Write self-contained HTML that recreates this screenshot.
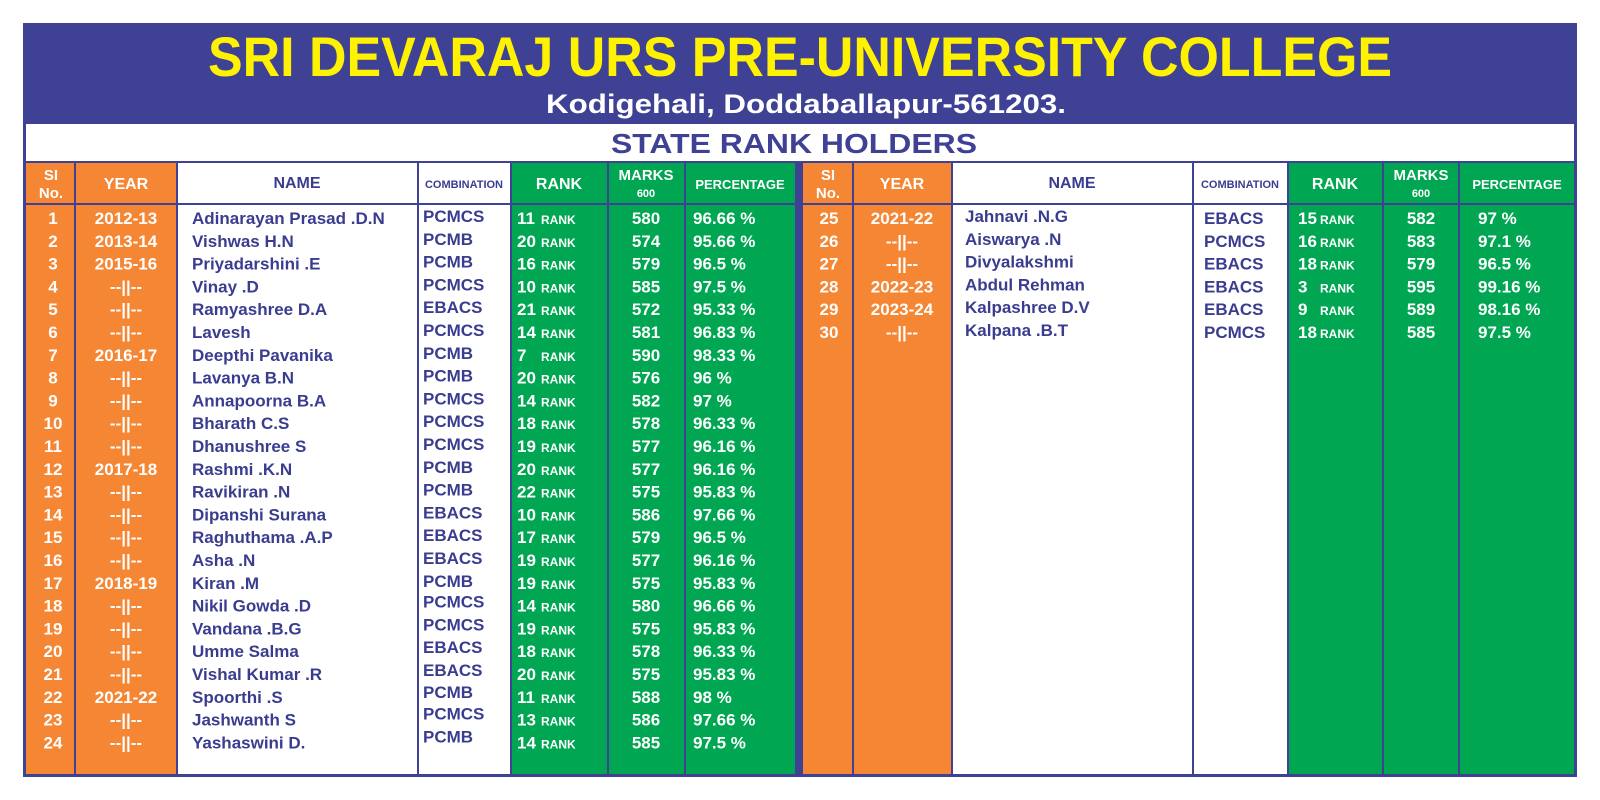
<!DOCTYPE html>
<html><head><meta charset="utf-8"><style>
html,body{margin:0;padding:0;background:#fff;}
svg{display:block;}
text{font-family:"Liberation Sans",Arial,sans-serif;font-weight:bold;}
.w{fill:#fff}.b{fill:#3a3d8f}
.d text{font-size:17px;}
.d .s text{font-size:12px}
</style></head><body>
<svg width="1600" height="800" viewBox="0 0 1600 800" xmlns="http://www.w3.org/2000/svg">
<rect width="1600" height="800" fill="#fff"/>
<rect x="24" y="24" width="1552" height="100" fill="#3f4194"/>
<text x="800" y="76" text-anchor="middle" font-size="56" fill="#fff200" textLength="1184" lengthAdjust="spacingAndGlyphs">SRI DEVARAJ URS PRE-UNIVERSITY COLLEGE</text>
<text x="806" y="113" text-anchor="middle" font-size="27" fill="#fff" textLength="520" lengthAdjust="spacingAndGlyphs">Kodigehali, Doddaballapur-561203.</text>
<text x="794" y="153" text-anchor="middle" font-size="28" fill="#3f4194" textLength="366" lengthAdjust="spacingAndGlyphs">STATE RANK HOLDERS</text>
<rect x="25" y="162" width="152" height="613" fill="#f58634"/>
<rect x="511" y="162" width="284" height="613" fill="#00a651"/>
<rect x="795" y="162" width="8" height="613" fill="#3f4194"/>
<rect x="803" y="162" width="149" height="613" fill="#f58634"/>
<rect x="1288" y="162" width="288" height="613" fill="#00a651"/>
<g stroke="#3f4194" stroke-width="2">
<line x1="25" y1="162" x2="1576" y2="162"/>
<line x1="25" y1="204" x2="1576" y2="204"/>
<line x1="75" y1="162" x2="75" y2="775"/>
<line x1="177" y1="162" x2="177" y2="775"/>
<line x1="418" y1="162" x2="418" y2="775"/>
<line x1="511" y1="162" x2="511" y2="775"/>
<line x1="608" y1="162" x2="608" y2="775"/>
<line x1="685" y1="162" x2="685" y2="775"/>
<line x1="853" y1="162" x2="853" y2="775"/>
<line x1="952" y1="162" x2="952" y2="775"/>
<line x1="1193" y1="162" x2="1193" y2="775"/>
<line x1="1288" y1="162" x2="1288" y2="775"/>
<line x1="1383" y1="162" x2="1383" y2="775"/>
<line x1="1459" y1="162" x2="1459" y2="775"/>
</g>
<rect x="24.5" y="24.5" width="1551" height="751" fill="none" stroke="#3f4194" stroke-width="3"/>
<g class="w" text-anchor="middle">
<text x="51" y="180" font-size="15">SI</text><text x="51" y="198" font-size="15">No.</text>
<text x="126" y="189" font-size="16">YEAR</text>
<text x="559" y="189" font-size="16">RANK</text>
<text x="646" y="180" font-size="15">MARKS</text><text x="646" y="197" font-size="11">600</text>
<text x="740" y="189" font-size="13">PERCENTAGE</text>
<text x="828" y="180" font-size="15">SI</text><text x="828" y="198" font-size="15">No.</text>
<text x="902" y="189" font-size="16">YEAR</text>
<text x="1335" y="189" font-size="16">RANK</text>
<text x="1421" y="180" font-size="15">MARKS</text><text x="1421" y="197" font-size="11">600</text>
<text x="1517" y="189" font-size="13">PERCENTAGE</text>
</g>
<g class="b" text-anchor="middle">
<text x="297" y="188" font-size="16">NAME</text>
<text x="464" y="188" font-size="11">COMBINATION</text>
<text x="1072" y="188" font-size="16">NAME</text>
<text x="1240" y="188" font-size="11">COMBINATION</text>
</g>
<g class="d">
<g class="w" text-anchor="middle">
<text x="53" y="224">1</text><text x="53" y="246.8">2</text><text x="53" y="269.6">3</text><text x="53" y="292.4">4</text><text x="53" y="315.2">5</text><text x="53" y="338">6</text><text x="53" y="360.8">7</text><text x="53" y="383.6">8</text><text x="53" y="406.4">9</text><text x="53" y="429.2">10</text><text x="53" y="452">11</text><text x="53" y="474.8">12</text><text x="53" y="497.6">13</text><text x="53" y="520.4">14</text><text x="53" y="543.2">15</text><text x="53" y="566">16</text><text x="53" y="588.8">17</text><text x="53" y="611.6">18</text><text x="53" y="634.4">19</text><text x="53" y="657.2">20</text><text x="53" y="680">21</text><text x="53" y="702.8">22</text><text x="53" y="725.6">23</text><text x="53" y="748.4">24</text>
<text x="126" y="224">2012-13</text><text x="126" y="246.8">2013-14</text><text x="126" y="269.6">2015-16</text><text x="126" y="292.4">--||--</text><text x="126" y="315.2">--||--</text><text x="126" y="338">--||--</text><text x="126" y="360.8">2016-17</text><text x="126" y="383.6">--||--</text><text x="126" y="406.4">--||--</text><text x="126" y="429.2">--||--</text><text x="126" y="452">--||--</text><text x="126" y="474.8">2017-18</text><text x="126" y="497.6">--||--</text><text x="126" y="520.4">--||--</text><text x="126" y="543.2">--||--</text><text x="126" y="566">--||--</text><text x="126" y="588.8">2018-19</text><text x="126" y="611.6">--||--</text><text x="126" y="634.4">--||--</text><text x="126" y="657.2">--||--</text><text x="126" y="680">--||--</text><text x="126" y="702.8">2021-22</text><text x="126" y="725.6">--||--</text><text x="126" y="748.4">--||--</text>
<text x="646" y="224">580</text><text x="646" y="246.8">574</text><text x="646" y="269.6">579</text><text x="646" y="292.4">585</text><text x="646" y="315.2">572</text><text x="646" y="338">581</text><text x="646" y="360.8">590</text><text x="646" y="383.6">576</text><text x="646" y="406.4">582</text><text x="646" y="429.2">578</text><text x="646" y="452">577</text><text x="646" y="474.8">577</text><text x="646" y="497.6">575</text><text x="646" y="520.4">586</text><text x="646" y="543.2">579</text><text x="646" y="566">577</text><text x="646" y="588.8">575</text><text x="646" y="611.6">580</text><text x="646" y="634.4">575</text><text x="646" y="657.2">578</text><text x="646" y="680">575</text><text x="646" y="702.8">588</text><text x="646" y="725.6">586</text><text x="646" y="748.4">585</text>
</g>
<g class="b">
<text x="192" y="224">Adinarayan Prasad .D.N</text><text x="192" y="246.8">Vishwas H.N</text><text x="192" y="269.6">Priyadarshini .E</text><text x="192" y="292.4">Vinay .D</text><text x="192" y="315.2">Ramyashree D.A</text><text x="192" y="338">Lavesh</text><text x="192" y="360.8">Deepthi Pavanika</text><text x="192" y="383.6">Lavanya B.N</text><text x="192" y="406.4">Annapoorna B.A</text><text x="192" y="429.2">Bharath C.S</text><text x="192" y="452">Dhanushree S</text><text x="192" y="474.8">Rashmi .K.N</text><text x="192" y="497.6">Ravikiran .N</text><text x="192" y="520.4">Dipanshi Surana</text><text x="192" y="543.2">Raghuthama .A.P</text><text x="192" y="566">Asha .N</text><text x="192" y="588.8">Kiran .M</text><text x="192" y="611.6">Nikil Gowda .D</text><text x="192" y="634.4">Vandana .B.G</text><text x="192" y="657.2">Umme Salma</text><text x="192" y="680">Vishal Kumar .R</text><text x="192" y="702.8">Spoorthi .S</text><text x="192" y="725.6">Jashwanth S</text><text x="192" y="748.4">Yashaswini D.</text>
<text x="423" y="222">PCMCS</text><text x="423" y="244.8">PCMB</text><text x="423" y="267.6">PCMB</text><text x="423" y="290.4">PCMCS</text><text x="423" y="313.2">EBACS</text><text x="423" y="336">PCMCS</text><text x="423" y="358.8">PCMB</text><text x="423" y="381.6">PCMB</text><text x="423" y="404.4">PCMCS</text><text x="423" y="427.2">PCMCS</text><text x="423" y="450">PCMCS</text><text x="423" y="472.8">PCMB</text><text x="423" y="495.6">PCMB</text><text x="423" y="518.4">EBACS</text><text x="423" y="541.2">EBACS</text><text x="423" y="564">EBACS</text><text x="423" y="586.8">PCMB</text><text x="423" y="607.6">PCMCS</text><text x="423" y="630.4">PCMCS</text><text x="423" y="653.2">EBACS</text><text x="423" y="676">EBACS</text><text x="423" y="697.8">PCMB</text><text x="423" y="719.6">PCMCS</text><text x="423" y="742.4">PCMB</text>
</g>
<g class="w">
<text x="517" y="224">11</text><text x="517" y="246.8">20</text><text x="517" y="269.6">16</text><text x="517" y="292.4">10</text><text x="517" y="315.2">21</text><text x="517" y="338">14</text><text x="517" y="360.8">7</text><text x="517" y="383.6">20</text><text x="517" y="406.4">14</text><text x="517" y="429.2">18</text><text x="517" y="452">19</text><text x="517" y="474.8">20</text><text x="517" y="497.6">22</text><text x="517" y="520.4">10</text><text x="517" y="543.2">17</text><text x="517" y="566">19</text><text x="517" y="588.8">19</text><text x="517" y="611.6">14</text><text x="517" y="634.4">19</text><text x="517" y="657.2">18</text><text x="517" y="680">20</text><text x="517" y="702.8">11</text><text x="517" y="725.6">13</text><text x="517" y="748.4">14</text>
<g class="s"><text x="541" y="224">RANK</text><text x="541" y="246.8">RANK</text><text x="541" y="269.6">RANK</text><text x="541" y="292.4">RANK</text><text x="541" y="315.2">RANK</text><text x="541" y="338">RANK</text><text x="541" y="360.8">RANK</text><text x="541" y="383.6">RANK</text><text x="541" y="406.4">RANK</text><text x="541" y="429.2">RANK</text><text x="541" y="452">RANK</text><text x="541" y="474.8">RANK</text><text x="541" y="497.6">RANK</text><text x="541" y="520.4">RANK</text><text x="541" y="543.2">RANK</text><text x="541" y="566">RANK</text><text x="541" y="588.8">RANK</text><text x="541" y="611.6">RANK</text><text x="541" y="634.4">RANK</text><text x="541" y="657.2">RANK</text><text x="541" y="680">RANK</text><text x="541" y="702.8">RANK</text><text x="541" y="725.6">RANK</text><text x="541" y="748.4">RANK</text></g>
<text x="693" y="224">96.66 %</text><text x="693" y="246.8">95.66 %</text><text x="693" y="269.6">96.5 %</text><text x="693" y="292.4">97.5 %</text><text x="693" y="315.2">95.33 %</text><text x="693" y="338">96.83 %</text><text x="693" y="360.8">98.33 %</text><text x="693" y="383.6">96 %</text><text x="693" y="406.4">97 %</text><text x="693" y="429.2">96.33 %</text><text x="693" y="452">96.16 %</text><text x="693" y="474.8">96.16 %</text><text x="693" y="497.6">95.83 %</text><text x="693" y="520.4">97.66 %</text><text x="693" y="543.2">96.5 %</text><text x="693" y="566">96.16 %</text><text x="693" y="588.8">95.83 %</text><text x="693" y="611.6">96.66 %</text><text x="693" y="634.4">95.83 %</text><text x="693" y="657.2">96.33 %</text><text x="693" y="680">95.83 %</text><text x="693" y="702.8">98 %</text><text x="693" y="725.6">97.66 %</text><text x="693" y="748.4">97.5 %</text>
</g>
<g class="w" text-anchor="middle">
<text x="829" y="224">25</text><text x="829" y="246.8">26</text><text x="829" y="269.6">27</text><text x="829" y="292.4">28</text><text x="829" y="315.2">29</text><text x="829" y="338">30</text>
<text x="902" y="224">2021-22</text><text x="902" y="246.8">--||--</text><text x="902" y="269.6">--||--</text><text x="902" y="292.4">2022-23</text><text x="902" y="315.2">2023-24</text><text x="902" y="338">--||--</text>
<text x="1421" y="224">582</text><text x="1421" y="246.8">583</text><text x="1421" y="269.6">579</text><text x="1421" y="292.4">595</text><text x="1421" y="315.2">589</text><text x="1421" y="338">585</text>
</g>
<g class="b">
<text x="965" y="222">Jahnavi .N.G</text><text x="965" y="244.8">Aiswarya .N</text><text x="965" y="267.6">Divyalakshmi</text><text x="965" y="290.4">Abdul Rehman</text><text x="965" y="313.2">Kalpashree D.V</text><text x="965" y="336">Kalpana .B.T</text>
<text x="1204" y="224">EBACS</text><text x="1204" y="246.8">PCMCS</text><text x="1204" y="269.6">EBACS</text><text x="1204" y="292.4">EBACS</text><text x="1204" y="315.2">EBACS</text><text x="1204" y="338">PCMCS</text>
</g>
<g class="w">
<text x="1298" y="224">15</text><text x="1298" y="246.8">16</text><text x="1298" y="269.6">18</text><text x="1298" y="292.4">3</text><text x="1298" y="315.2">9</text><text x="1298" y="338">18</text>
<g class="s"><text x="1320" y="224">RANK</text><text x="1320" y="246.8">RANK</text><text x="1320" y="269.6">RANK</text><text x="1320" y="292.4">RANK</text><text x="1320" y="315.2">RANK</text><text x="1320" y="338">RANK</text></g>
<text x="1478" y="224">97 %</text><text x="1478" y="246.8">97.1 %</text><text x="1478" y="269.6">96.5 %</text><text x="1478" y="292.4">99.16 %</text><text x="1478" y="315.2">98.16 %</text><text x="1478" y="338">97.5 %</text>
</g>
</g>
</svg>
</body></html>
